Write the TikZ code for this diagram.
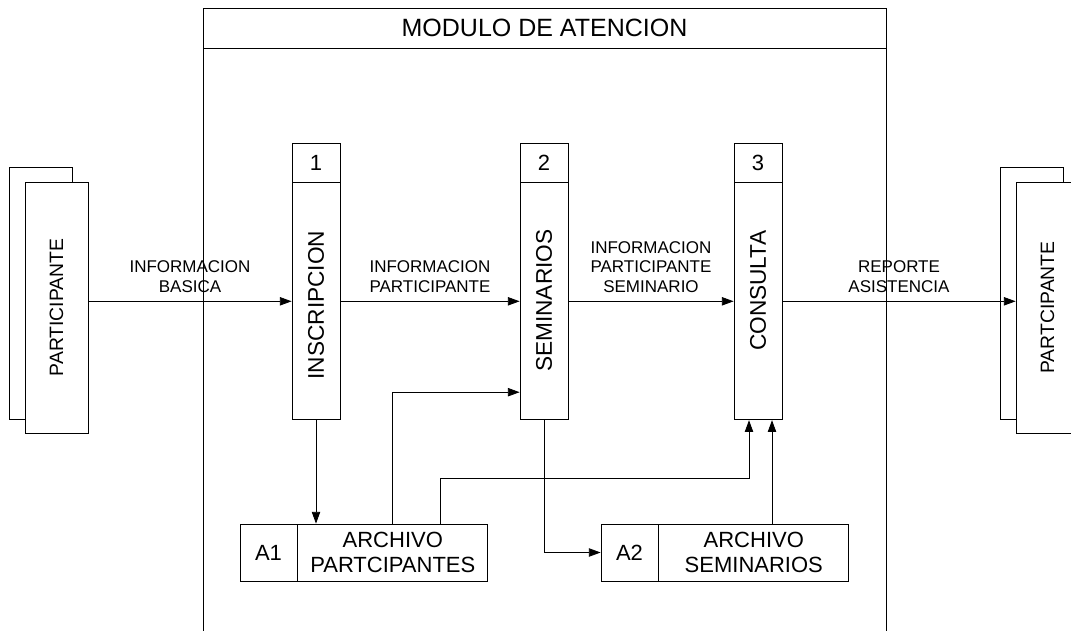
\documentclass[tikz,border=0pt]{standalone}
\usepackage{fontspec}
\setmainfont{Liberation Sans}
\usepackage{graphicx}
\usepackage{tikz}
\usetikzlibrary{arrows.meta, positioning}
\tikzset{
  modhead/.style   = {draw, minimum width=512.25pt, minimum height=30pt,
                      inner sep=0pt, font=\fontsize{18.75}{22}\selectfont},
  modbody/.style   = {draw, minimum width=512.25pt, minimum height=450pt,
                      inner sep=0pt},
  entback/.style   = {draw, fill=white, minimum width=47.25pt, minimum height=189pt,
                      inner sep=0pt},
  entfront/.style  = {draw, fill=white, minimum width=47.25pt, minimum height=188.25pt,
                      inner sep=0pt, font=\fontsize{14.5}{17}\selectfont},
  prochead/.style  = {draw, fill=white, minimum width=36pt, minimum height=29.25pt,
                      inner sep=0pt, font=\fontsize{16.5}{19}\selectfont},
  procbody/.style  = {draw, fill=white, minimum width=36pt, minimum height=177.75pt,
                      inner sep=0pt},
  proctxt/.style   = {rotate=90, anchor=east, inner sep=0pt,
                      font=\fontsize{17}{20}\selectfont},
  storeid/.style   = {draw, fill=white, minimum width=42.75pt, minimum height=42.75pt,
                      inner sep=0pt, font=\fontsize{16.5}{19}\selectfont},
  storename/.style = {draw, fill=white, minimum width=142.5pt, minimum height=42.75pt,
                      inner sep=0pt, align=center, font=\fontsize{16.5}{18.75}\selectfont},
  flow/.style      = {-{Triangle[length=8.75pt, width=6.25pt]}, semithick},
  flowlbl/.style   = {align=center, inner sep=1pt, font=\fontsize{12.75}{14.6}\selectfont},
}

\begin{document}
\begin{tikzpicture}[x=0.75pt, y=-0.75pt, semithick]
    \useasboundingbox (0,0) rectangle (1071,631);
    \clip (0,0) rectangle (1071,631);
    % Module frame
    \node[modhead]                     (mod)  at (544.5,28) {MODULO DE ATENCION};
    \node[modbody, below=0pt of mod]   (modb) {};
    % External entities
    \node[entback]                     (e1b)  at (40.5,293) {};
    \node[entfront]                    (e1)   at (56.5,307.5) {\rotatebox{90}{PARTICIPANTE}};
    \node[entback]                     (e2b)  at (1031.5,293) {};
    \node[entfront]                    (e2)   at (1047.5,307.5) {\rotatebox{90}{PARTCIPANTE}};
    % Processes
    \node[prochead]                    (h1)   at (316,162.5) {1};
    \node[procbody, below=0pt of h1]   (p1)   {};
    \node[prochead]                    (h2)   at (544,162.5) {2};
    \node[procbody, below=0pt of h2]   (p2)   {};
    \node[prochead]                    (h3)   at (758,162.5) {3};
    \node[procbody, below=0pt of h3]   (p3)   {};
    \node[proctxt] at ([yshift=-36pt]p1.north) {INSCRIPCION};
    \node[proctxt] at ([yshift=-35pt]p2.north) {SEMINARIOS};
    \node[proctxt] at ([yshift=-36pt]p3.north) {CONSULTA};
    % Data stores
    \node[storeid]                     (a1id) at (268.5,552.5) {A1};
    \node[storename, right=0pt of a1id] (a1)  {ARCHIVO\\PARTCIPANTES};
    \node[storeid]                     (a2id) at (629.5,552.5) {A2};
    \node[storename, right=0pt of a2id] (a2)  {ARCHIVO\\SEMINARIOS};

    \coordinate (k2) at ([yshift=21pt]p2.south west);
    \coordinate (l3) at ([xshift=-6.75pt]p3.south);
    \coordinate (r3) at ([xshift=10.5pt]p3.south);

    \draw[flow] (e1.east |- p1.west) -- node[flowlbl, above=5.5pt] {INFORMACION\\BASICA} (p1.west);
    \draw[flow] (p1.east) -- node[flowlbl, above=5.5pt] {INFORMACION\\PARTICIPANTE} (p2.west);
    \draw[flow] (p2.east) -- node[flowlbl, above=5.5pt] {INFORMACION\\PARTICIPANTE\\SEMINARIO} (p3.west);
    \draw[flow] (p3.east) -- node[flowlbl, above=5.5pt] {REPORTE\\ASISTENCIA} (p3.east -| e2.west);
    \draw[flow] (p1.south) -- (p1.south |- a1.north);
    \draw[flow] (a1.north) |- (k2);
    \draw[flow] ([xshift=36pt]a1.north) |- ([yshift=-43.5pt]l3) -- (l3);
    \draw[flow] (p2.south) |- (a2id.west);
    \draw[flow] (r3 |- a2.north) -- (r3);
  \end{tikzpicture}
\end{document}
